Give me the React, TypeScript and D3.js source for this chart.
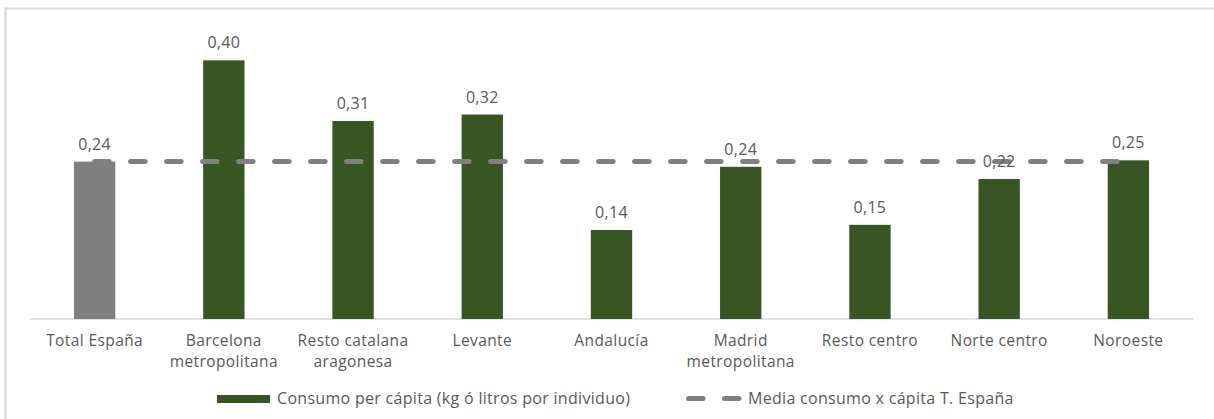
import React from "react";
import * as d3 from "d3";

const categories: string[][] = [
  ["Total España"],
  ["Barcelona", "metropolitana"],
  ["Resto catalana", "aragonesa"],
  ["Levante"],
  ["Andalucía"],
  ["Madrid", "metropolitana"],
  ["Resto centro"],
  ["Norte centro"],
  ["Noroeste"],
];
const values: number[] = [0.244, 0.401, 0.307, 0.317, 0.138, 0.236, 0.146, 0.217, 0.246];
const meanValue = 0.244;
const legendLabels = [
  "Consumo per cápita (kg ó litros por individuo)",
  "Media consumo x cápita T. España",
];

const W = 1214;
const H = 419;
const GREEN = "#375623";
const GRAY_BAR = "#7f7f7f";
const DASH = "#808080";
const TEXT = "#595959";
const FONT = "'Open Sans', sans-serif";

export default function App() {
  const keys = categories.map((c) => c.join(" "));
  const x = d3.scaleBand<string>().domain(keys).range([30, 1193]).paddingInner(0.68).paddingOuter(0.34);
  const y = d3.scaleLinear().domain([0, 0.45]).range([319, 319 - 0.45 * 645]);
  const fmt = (v: number) => d3.format(".2f")(v).replace(".", ",");
  const centers = keys.map((k) => (x(k) as number) + x.bandwidth() / 2);
  const dash = "14.5 21.5";
  const textStyle = { fontFamily: FONT, fontSize: 16, letterSpacing: "0.3px", fill: TEXT };
  const catStyle = { fontFamily: FONT, fontSize: 15.5, letterSpacing: "0.4px", fill: TEXT };

  return (
    <svg width={W} height={H} style={{ position: "absolute", left: 0, top: 0, background: "#fff" }}>
      <rect x={5.5} y={8.5} width={1230} height={430} fill="#fff" stroke="#d9d9d9" strokeWidth={2} />
      <line x1={30} x2={1193} y1={y(0)} y2={y(0)} stroke="#d9d9d9" strokeWidth={1.5} />
      {keys.map((k, i) => (
        <rect
          key={k}
          x={x(k)}
          y={y(values[i])}
          width={x.bandwidth()}
          height={y(0) - y(values[i])}
          fill={i === 0 ? GRAY_BAR : GREEN}
        />
      ))}
      <line
        x1={centers[0]}
        x2={centers[centers.length - 1]}
        y1={y(meanValue)}
        y2={y(meanValue)}
        stroke={DASH}
        strokeWidth={5}
        strokeLinecap="round"
        strokeDasharray={dash}
      />
      {keys.map((k, i) => (
        <text key={"v" + k} x={centers[i]} y={y(values[i]) - 12} textAnchor="middle" style={textStyle}>
          {fmt(values[i])}
        </text>
      ))}
      {categories.map((lines, i) =>
        lines.map((l, j) => (
          <text key={"c" + i + "-" + j} x={centers[i]} y={345.5 + j * 21.3} textAnchor="middle" style={catStyle}>
            {l}
          </text>
        ))
      )}
      <rect x={217} y={395} width={53} height={8} fill={GREEN} />
      <text x={277} y={404} style={textStyle}>{legendLabels[0]}</text>
      <line x1={688.5} x2={740} y1={398.5} y2={398.5} stroke={DASH} strokeWidth={5} strokeLinecap="round" strokeDasharray={dash} />
      <text x={748} y={404} style={textStyle}>{legendLabels[1]}</text>
    </svg>
  );
}
